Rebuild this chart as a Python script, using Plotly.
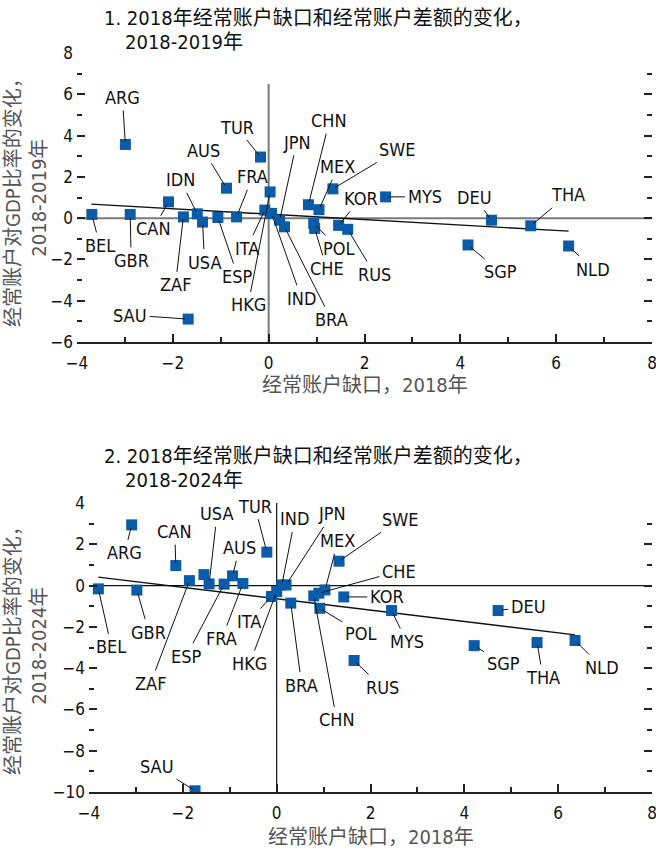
import plotly.graph_objects as go

# ---------------- data ----------------
countries_1 = ["BEL", "GBR", "ARG", "CAN", "SAU", "ZAF", "IDN", "USA", "ESP", "AUS",
               "FRA", "TUR", "ITA", "HKG", "IND", "JPN", "BRA", "CHN", "MEX", "POL",
               "CHE", "SWE", "KOR", "RUS", "MYS", "SGP", "DEU", "THA", "NLD"]
gap_1 = [-3.69, -2.89, -2.99, -2.09, -1.68, -1.78, -1.49, -1.38, -1.06, -0.88,
         -0.67, -0.17, -0.08, 0.03, 0.06, 0.23, 0.33, 0.83, 1.05, 0.94,
         0.96, 1.34, 1.46, 1.65, 2.44, 4.16, 4.65, 5.47, 6.26]
chg_1 = [0.18, 0.18, 3.57, 0.79, -4.89, 0.06, 0.21, -0.19, 0.03, 1.45,
         0.06, 2.96, 0.39, 1.27, 0.23, -0.10, -0.42, 0.65, 0.41, -0.26,
         -0.50, 1.42, -0.35, -0.54, 1.03, -1.30, -0.10, -0.37, -1.35]
fit_x_1 = [-3.70, 6.26]
fit_y_1 = [0.68, -0.63]

countries_2 = ["ARG", "CAN", "BEL", "GBR", "ZAF", "IDN", "USA", "ESP", "AUS", "FRA",
               "TUR", "ITA", "HKG", "IND", "JPN", "BRA", "CHN", "CHE", "MEX", "POL",
               "SWE", "KOR", "RUS", "MYS", "DEU", "SGP", "THA", "NLD", "SAU"]
gap_2 = [-3.09, -2.15, -3.80, -2.98, -1.86, -1.55, -1.44, -1.12, -0.94, -0.72,
         -0.21, -0.11, 0.00, 0.11, 0.20, 0.30, 0.79, 0.90, 1.03, 0.92,
         1.33, 1.43, 1.65, 2.45, 4.72, 4.21, 5.55, 6.36, -1.74]
chg_2 = [2.94, 0.97, -0.16, -0.22, 0.24, 0.53, 0.08, 0.07, 0.47, 0.10,
         1.62, -0.53, -0.29, 0.03, 0.03, -0.85, -0.50, -0.37, -0.21, -1.10,
         1.18, -0.55, -3.63, -1.21, -1.21, -2.91, -2.76, -2.66, -9.94]
fit_x_2 = [-3.80, 6.36]
fit_y_2 = [0.41, -2.39]

title_1 = ["1. 2018年经常账户缺口和经常账户差额的变化，", "2018-2019年"]
title_2 = ["2. 2018年经常账户缺口和经常账户差额的变化，", "2018-2024年"]
ytitle_1 = "经常账户对GDP比率的变化，<br>2018-2019年"
ytitle_2 = "经常账户对GDP比率的变化，<br>2018-2024年"
xtitle = "经常账户缺口，2018年"

# label placement (pixel offsets of label from its point); absent = no label
label_pos_1 = {
    "ARG": (-3, -47), "TUR": (-24, -30), "AUS": (-23, -38), "IDN": (-17, -34),
    "FRA": (16, -40), "JPN": (17, -78), "CHN": (21, -84), "MEX": (19, -43),
    "SWE": (65, -39), "KOR": (22, -27), "MYS": (39, 0), "DEU": (-17, -23),
    "THA": (37, -31), "SGP": (32, 27), "NLD": (24, 23), "RUS": (27, 45),
    "POL": (25, 25), "CHE": (12, 40), "BRA": (47, 93), "IND": (30, 85),
    "HKG": (-22, 113), "ITA": (-18, 38), "ESP": (20, 59), "USA": (2, 40),
    "ZAF": (-8, 68), "CAN": (-15, 27), "BEL": (8, 31), "GBR": (1, 46),
    "SAU": (-58, -4),
}
label_pos_2 = {
    "ARG": (-7, 28), "CAN": (-1, -34), "USA": (8, -70), "TUR": (-12, -46),
    "AUS": (7, -28), "IND": (13, -66), "JPN": (46, -71), "MEX": (13, -49),
    "SWE": (61, -42), "CHE": (80, -22), "KOR": (43, 0), "DEU": (30, -4),
    "ESP": (-38, 72), "FRA": (-21, 55), "ITA": (-23, 25), "HKG": (-27, 72),
    "BRA": (11, 82), "POL": (41, 25), "CHN": (23, 124), "MYS": (15, 31),
    "RUS": (28, 27), "SGP": (29, 18), "THA": (6, 35), "NLD": (27, 27),
    "BEL": (13, 58), "GBR": (12, 42), "ZAF": (-39, 103), "SAU": (-38, -24),
}

# ---------------- style ----------------
W, H = 656, 850
FONT = "Liberation Sans Narrow, Arial Narrow, DejaVu Sans Condensed, Noto Sans CJK SC, sans-serif"
BLUE = "#0B5CA8"

def px_x(p):
    return p / W

def px_y(p):
    return 1 - p / H

fig = go.Figure()

for (gx, gy, fx, fy, xa, ya, ya_r) in [(gap_1, chg_1, fit_x_1, fit_y_1, "x", "y", "y3"),
                                        (gap_2, chg_2, fit_x_2, fit_y_2, "x2", "y2", "y4")]:
    fig.add_trace(go.Scatter(x=fx, y=fy, mode="lines", xaxis=xa, yaxis=ya,
                             line=dict(color="#111111", width=1.4),
                             hoverinfo="skip", showlegend=False))
    fig.add_trace(go.Scatter(x=gx, y=gy, mode="markers", xaxis=xa, yaxis=ya,
                             marker=dict(symbol="square", size=11, color=BLUE,
                                         line=dict(width=0)),
                             showlegend=False))
    # invisible copy so the right-hand tick axis is drawn
    fig.add_trace(go.Scatter(x=gx, y=gy, mode="markers", xaxis=xa, yaxis=ya_r,
                             marker=dict(size=1, opacity=0),
                             hoverinfo="skip", showlegend=False))

annotations = []
for (names, gx, gy, pos, xr, yr) in [(countries_1, gap_1, chg_1, label_pos_1, "x", "y"),
                                     (countries_2, gap_2, chg_2, label_pos_2, "x2", "y2")]:
    for n, xv, yv in zip(names, gx, gy):
        if n not in pos:
            continue
        ax, ay = pos[n]
        annotations.append(dict(
            x=xv, y=yv, xref=xr, yref=yr, text=n, showarrow=True,
            arrowhead=0, arrowwidth=1, arrowcolor="#111111",
            ax=ax, ay=ay, standoff=3, borderpad=2,
            font=dict(family=FONT, size=18, color="#111111")))

# titles
for lines, y1, y2 in [(title_1, 18, 42), (title_2, 456, 480)]:
    annotations.append(dict(x=px_x(102), y=px_y(y1), xref="paper", yref="paper",
                            text=lines[0], showarrow=False, xanchor="left", yanchor="middle",
                            font=dict(family=FONT, size=20, color="#111111")))
    annotations.append(dict(x=px_x(123), y=px_y(y2), xref="paper", yref="paper",
                            text=lines[1], showarrow=False, xanchor="left", yanchor="middle",
                            font=dict(family=FONT, size=20, color="#111111")))

# axis titles
for txt, yc in [(ytitle_1, 198), (ytitle_2, 646)]:
    annotations.append(dict(x=px_x(26), y=px_y(yc), xref="paper", yref="paper",
                            text=txt, showarrow=False, textangle=-90,
                            xanchor="center", yanchor="middle", align="center",
                            font=dict(family=FONT, size=20, color="#555555")))
for xc, yc in [(364.5, 385), (370.5, 837)]:
    annotations.append(dict(x=px_x(xc), y=px_y(yc), xref="paper", yref="paper",
                            text=xtitle, showarrow=False,
                            xanchor="center", yanchor="middle",
                            font=dict(family=FONT, size=20, color="#555555")))

shapes = [
    dict(type="line", xref="x", yref="y", x0=-4, x1=8, y0=0, y1=0,
         line=dict(color="#7a7a7a", width=2), layer="below"),
    dict(type="line", xref="x", yref="y", x0=0, x1=0, y0=-6, y1=6.5,
         line=dict(color="#7a7a7a", width=2), layer="below"),
    dict(type="line", xref="x2", yref="y2", x0=-4, x1=8, y0=0, y1=0,
         line=dict(color="#111111", width=1.2), layer="below"),
    dict(type="line", xref="x2", yref="y2", x0=0, x1=0, y0=-10, y1=4,
         line=dict(color="#111111", width=1.2), layer="below"),
]

tickfont = dict(family=FONT, size=17, color="#111111")
minor_ticks = dict(dtick=1, ticks="inside", ticklen=5, tickwidth=1.5,
                   tickcolor="#222222", showgrid=False)

def xaxis(dom, anchor):
    return dict(domain=dom, anchor=anchor, range=[-4, 8], dtick=2, tick0=0,
                automargin=False, ticklabeloverflow="allow",
                showgrid=False, zeroline=False, showline=True, linecolor="#222222",
                linewidth=1.5, ticks="inside", ticklen=8, tickwidth=1.6,
                tickcolor="#222222", tickfont=tickfont, ticklabelstandoff=5,
                minor=minor_ticks, fixedrange=True)

def yaxis(dom, anchor, rng):
    return dict(domain=dom, anchor=anchor, range=rng, dtick=2, tick0=0,
                automargin=False, ticklabeloverflow="allow",
                showgrid=False, zeroline=False, showline=False,
                ticks="inside", ticklen=8, tickwidth=1.6, tickcolor="#222222",
                tickfont=tickfont, ticklabelstandoff=3,
                minor=minor_ticks, fixedrange=True)

def yaxis_right(over, anchor, rng):
    return dict(overlaying=over, anchor=anchor, side="right", range=rng,
                dtick=2, tick0=0, automargin=False,
                showgrid=False, zeroline=False, showline=False,
                showticklabels=False,
                ticks="inside", ticklen=8, tickwidth=1.6, tickcolor="#222222",
                minor=minor_ticks, fixedrange=True)

fig.update_layout(
    template="none",
    width=W, height=H, autosize=False,
    margin=dict(l=0, r=0, t=0, b=0, pad=0),
    paper_bgcolor="white", plot_bgcolor="white",
    showlegend=False,
    xaxis=xaxis([px_x(77), px_x(652)], "y"),
    yaxis=yaxis([px_y(342), px_y(53)], "x", [-6, 8]),
    xaxis2=xaxis([px_x(89), px_x(652)], "y2"),
    yaxis2=yaxis([px_y(792), px_y(503)], "x2", [-10, 4]),
    yaxis3=yaxis_right("y", "x", [-6, 8]),
    yaxis4=yaxis_right("y2", "x2", [-10, 4]),
    annotations=annotations,
    shapes=shapes,
)

# remove the browser's default body margin and any scrollbars so the
# figure fills the 656x850 window exactly
page_css = ("document.body.style.margin='0px';"
            "document.body.style.overflow='hidden';"
            "document.documentElement.style.overflow='hidden';")
fig.write_html("out.html", config={"displayModeBar": False}, post_script=page_css)
